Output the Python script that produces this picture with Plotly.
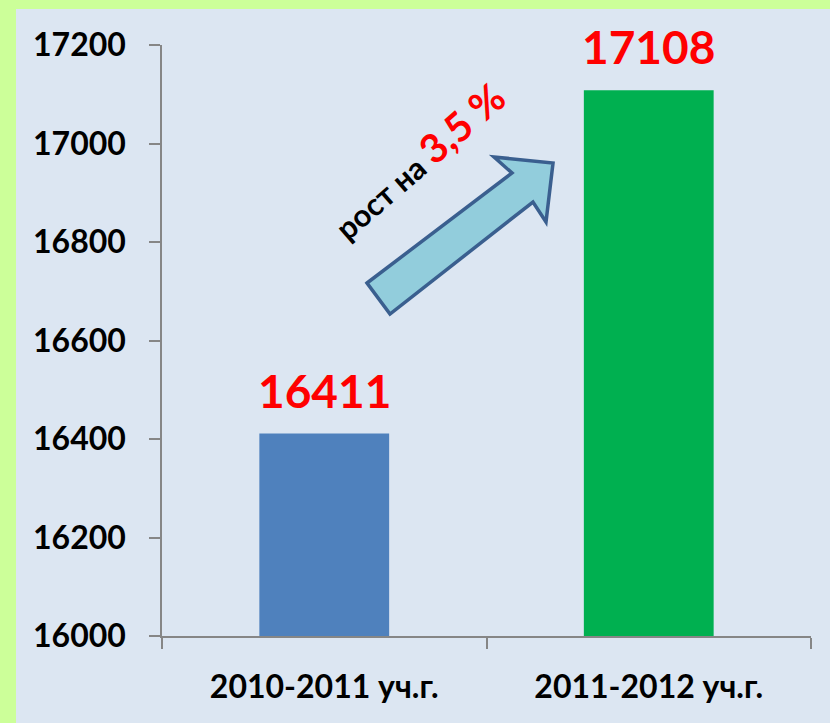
import plotly.graph_objects as go

categories = ["2010-2011 уч.г.", "2011-2012 уч.г."]
values = [16411, 17108]
bar_colors = ["#4f81bd", "#00b050"]
y_ticks = [16000, 16200, 16400, 16600, 16800, 17000, 17200]
y_tick_labels = ["16000", "16200", "16400", "16600", "16800", "17000", "17200"]

W, H = 830, 723
L, R, T, B = 162, 19, 45, 87
pw, ph = W - L - R, H - T - B

def px(X):
    return (X - L) / pw

def py(Y):
    return (H - B - Y) / ph

fig = go.Figure(go.Bar(
    x=categories, y=values, marker=dict(color=bar_colors, line=dict(width=0)),
    width=0.4, cliponaxis=False, hoverinfo="skip",
))

for c, v in zip(categories, values):
    fig.add_annotation(
        x=c, y=v, xref="x", yref="y", text=str(v), showarrow=False,
        yanchor="bottom", yshift=14,
        font=dict(family="Lato", size=46, color="#ff0000", weight="bold"),
    )

arrow_pts = [(367, 283), (512, 173), (494, 157), (553, 163), (546, 222), (533, 202), (390, 314)]
path = "M " + " L ".join(f"{px(a):.4f},{py(b):.4f}" for a, b in arrow_pts) + " Z"

fig.add_annotation(
    xref="paper", yref="paper", x=px(418), y=py(161), showarrow=False,
    text="рост на <span style='color:#ff0000;font-size:40px'>3,5 %</span>",
    textangle=-41, font=dict(family="Lato", size=31, color="#000000", weight="bold"),
    xanchor="center", yanchor="middle",
)

fig.update_layout(
    width=W, height=H, margin=dict(l=L, r=R, t=T, b=B, pad=0),
    paper_bgcolor="#ccff99", plot_bgcolor="#dce6f2",
    showlegend=False,
    font=dict(family="Lato", color="#000000"),
    shapes=[
        dict(type="rect", xref="paper", yref="paper", x0=px(16), x1=px(831), y0=py(724), y1=py(9),
             fillcolor="#dce6f2", line=dict(width=0), layer="below"),
        dict(type="path", xref="paper", yref="paper", path=path,
             fillcolor="#92cddc", line=dict(color="#3a5f8f", width=3.5), layer="above"),
    ],
)
fig.update_yaxes(
    range=[16000, 17200], tickvals=y_ticks, ticktext=y_tick_labels, showgrid=False, showline=True,
    linecolor="#868686", linewidth=1.5, ticks="outside", ticklen=11, tickcolor="#868686",
    tickwidth=1.5, tickfont=dict(family="Lato", size=32, weight="bold", color="#000000"),
    ticklabelstandoff=17, zeroline=False,
)
fig.update_xaxes(
    showline=True, linecolor="#868686", linewidth=1.5, ticks="outside", ticklen=11,
    tickcolor="#868686", tickwidth=1.5, tickson="boundaries",
    tickfont=dict(family="Lato", size=32, weight="bold", color="#000000"),
    ticklabelstandoff=22,
)
fig.write_html("out.html", config={"displayModeBar": False},
               post_script="document.body.style.margin='0';document.body.style.padding='0';")
